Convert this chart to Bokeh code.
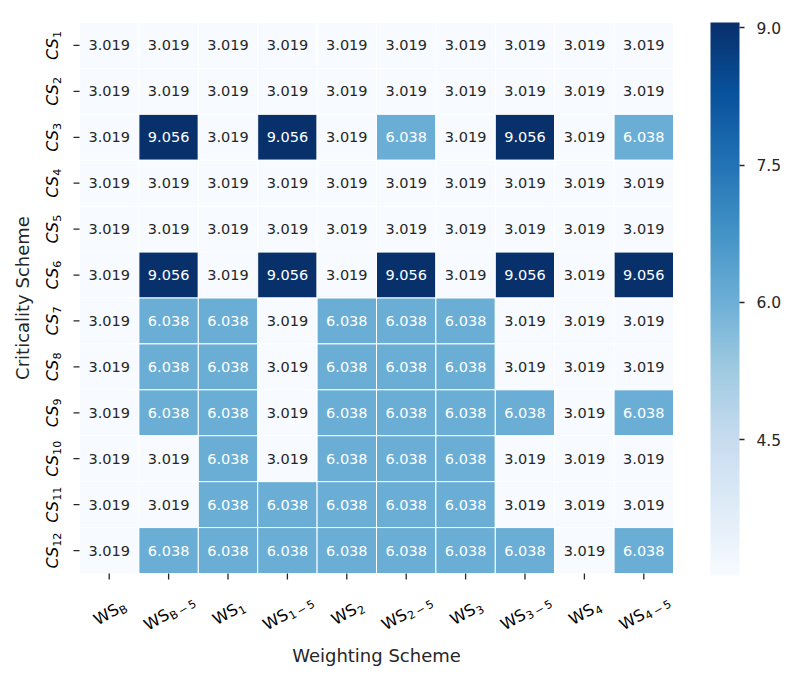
import math
from bokeh.plotting import figure
from bokeh.models import (ColumnDataSource, Range1d, LinearColorMapper, ColorBar,
                          FixedTicker, PrintfTickFormatter)
from bokeh.palettes import Blues256
from bokeh.embed import file_html
from bokeh.resources import INLINE
from bokeh.core.properties import value

# ---------------- data ----------------
ws_factors = ["WS_B", "WS_B-5", "WS_1", "WS_1-5", "WS_2", "WS_2-5",
              "WS_3", "WS_3-5", "WS_4", "WS_4-5"]
ws_main = "WS"
ws_subs = ["B", "B\u2009\u2212\u20095", "1", "1\u2009\u2212\u20095", "2", "2\u2009\u2212\u20095",
           "3", "3\u2009\u2212\u20095", "4", "4\u2009\u2212\u20095"]

cs_factors = ["CS_1", "CS_2", "CS_3", "CS_4", "CS_5", "CS_6",
              "CS_7", "CS_8", "CS_9", "CS_10", "CS_11", "CS_12"]
cs_main = "CS"
cs_subs = ["1", "2", "3", "4", "5", "6", "7", "8", "9", "10", "11", "12"]

cs1 = [3.019, 3.019, 3.019, 3.019, 3.019, 3.019, 3.019, 3.019, 3.019, 3.019]
cs2 = [3.019, 3.019, 3.019, 3.019, 3.019, 3.019, 3.019, 3.019, 3.019, 3.019]
cs3 = [3.019, 9.056, 3.019, 9.056, 3.019, 6.038, 3.019, 9.056, 3.019, 6.038]
cs4 = [3.019, 3.019, 3.019, 3.019, 3.019, 3.019, 3.019, 3.019, 3.019, 3.019]
cs5 = [3.019, 3.019, 3.019, 3.019, 3.019, 3.019, 3.019, 3.019, 3.019, 3.019]
cs6 = [3.019, 9.056, 3.019, 9.056, 3.019, 9.056, 3.019, 9.056, 3.019, 9.056]
cs7 = [3.019, 6.038, 6.038, 3.019, 6.038, 6.038, 6.038, 3.019, 3.019, 3.019]
cs8 = [3.019, 6.038, 6.038, 3.019, 6.038, 6.038, 6.038, 3.019, 3.019, 3.019]
cs9 = [3.019, 6.038, 6.038, 3.019, 6.038, 6.038, 6.038, 6.038, 3.019, 6.038]
cs10 = [3.019, 3.019, 6.038, 3.019, 6.038, 6.038, 6.038, 3.019, 3.019, 3.019]
cs11 = [3.019, 3.019, 6.038, 6.038, 6.038, 6.038, 6.038, 3.019, 3.019, 3.019]
cs12 = [3.019, 6.038, 6.038, 6.038, 6.038, 6.038, 6.038, 6.038, 3.019, 6.038]
rows = [cs1, cs2, cs3, cs4, cs5, cs6, cs7, cs8, cs9, cs10, cs11, cs12]

x_title = "Weighting Scheme"
y_title = "Criticality Scheme"
cbar_ticks = [4.5, 6.0, 7.5, 9.0]

# ---------------- layout / styling ----------------
W_PX, H_PX = 798, 682
LEFT, TOP, RIGHT, BOTTOM = 79, 22, 673, 573      # heatmap area in pixels
FONT = "DejaVu Sans"
TXT = "#262626"
TICK_FS = 16.0
SUB_FS = round(TICK_FS * 0.7, 1)
EM = {"W": 0.989, "S": 0.635, "C": 0.698, "B": 0.686, "\u2212": 0.838,
      "\u2009": 0.2, " ": 0.318}

ncol, nrow = len(ws_factors), len(cs_factors)
cw = (RIGHT - LEFT) / ncol
rh = (BOTTOM - TOP) / nrow
x_range = Range1d(-LEFT / cw, (W_PX - LEFT) / cw)
y_range = Range1d(-(H_PX - BOTTOM) / rh, nrow + TOP / rh)


def text_width(s, fs):
    return sum(EM.get(ch, 0.636) for ch in s) * fs


vmin = min(min(r) for r in rows)
vmax = max(max(r) for r in rows)
palette = list(reversed(Blues256))
mapper = LinearColorMapper(palette=palette, low=vmin, high=vmax)

# cell positions from the category order (column index, row index from top)
xs, ys, vals, labels, tcolors = [], [], [], [], []
for r, row in enumerate(rows):
    for c, v in enumerate(row):
        xs.append(c + 0.5)
        ys.append(nrow - r - 0.5)
        vals.append(v)
        labels.append(f"{v:.3f}")
        tcolors.append("white" if (v - vmin) / (vmax - vmin) > 0.4 else TXT)

src = ColumnDataSource(dict(x=xs, y=ys, val=vals, label=labels, tcolor=tcolors))

p = figure(x_range=x_range, y_range=y_range, width=W_PX, height=H_PX,
           output_backend="svg", toolbar_location=None,
           x_axis_location=None, y_axis_location=None,
           min_border=0, min_border_left=0, min_border_right=0,
           min_border_top=0, min_border_bottom=0)
p.outline_line_color = None
p.grid.visible = False
p.background_fill_color = "white"
p.border_fill_color = "white"

p.rect(x="x", y="y", width=1, height=1, source=src,
       fill_color={"field": "val", "transform": mapper},
       line_color="white", line_width=1)
p.text(x="x", y="y", text="label", source=src, text_align="center",
       text_baseline="middle", text_font=value(FONT), text_font_size="14.5px",
       text_color="tcolor")

# ---- tick marks (6 px long, outside the heatmap) ----
tick_len_x = 6 / rh
tick_len_y = 6 / cw
xt = [i + 0.5 for i in range(ncol)]
p.segment(x0=xt, y0=[0] * ncol, x1=xt, y1=[-tick_len_x] * ncol,
          line_color=TXT, line_width=1.3)
yt = [nrow - i - 0.5 for i in range(nrow)]
p.segment(x0=[0] * nrow, y0=yt, x1=[-tick_len_y] * nrow, y1=yt,
          line_color=TXT, line_width=1.3)

# ---- tick labels: main text + subscript, rotated ----
lab = dict(x=[], y=[], text=[], xo=[], yo=[], size=[], style=[], angle=[])


def add_rot_label(x, y, main, sub, angle_deg, cx, cy_down, italic):
    th = math.radians(angle_deg)
    wm = text_width(main, TICK_FS)
    wsb = text_width(sub, SUB_FS)
    W = wm + wsb + 0.5
    cap = 0.73 * TICK_FS
    # b = distance (px) of each piece's vertical middle below the label centre
    pieces = [(main, TICK_FS, -W / 2, cap / 2 - 0.3 * TICK_FS,
               "italic" if italic else "normal"),
              (sub, SUB_FS, -W / 2 + wm + 0.5, cap / 2 + 3.5 - 0.3 * SUB_FS, "normal")]
    for txt, fs, a, b, style in pieces:
        dx = a * math.cos(th) + b * math.sin(th)
        dy = -a * math.sin(th) + b * math.cos(th)
        lab["x"].append(x)
        lab["y"].append(y)
        lab["text"].append(txt)
        lab["xo"].append(cx + dx)
        lab["yo"].append(cy_down + dy)
        lab["size"].append(f"{fs}px")
        lab["style"].append(style)
        lab["angle"].append(th)


for i, sub in enumerate(ws_subs):
    add_rot_label(i + 0.5, 0, ws_main, sub, 30, 0, 38, False)
for i, sub in enumerate(cs_subs):
    add_rot_label(0, nrow - i - 0.5, cs_main, sub, 90, -28, 0, True)

lsrc = ColumnDataSource(lab)
p.text(x="x", y="y", text="text", source=lsrc, angle="angle",
       x_offset="xo", y_offset="yo", text_font_size="size",
       text_font_style="style", text_font=value(FONT),
       text_align="left", text_baseline="middle", text_color="black")

# ---- axis titles ----
p.text(x=[ncol / 2], y=[0], text=[x_title], x_offset=[0], y_offset=[82],
       text_align="center", text_baseline="middle", text_font=value(FONT),
       text_font_size="18px", text_color=TXT)
p.text(x=[0], y=[nrow / 2], text=[y_title], x_offset=[-57], y_offset=[0],
       angle=[math.pi / 2], text_align="center", text_baseline="middle",
       text_font=value(FONT), text_font_size="18px", text_color=TXT)

# ---- colour bar ----
cb = ColorBar(color_mapper=mapper, ticker=FixedTicker(ticks=cbar_ticks),
              formatter=PrintfTickFormatter(format="%.1f"),
              width=29, height=BOTTOM - TOP + 2, padding=0, margin=0,
              location=(710, H_PX - BOTTOM - 2),
              major_label_text_font=FONT, major_label_text_font_size="15.5px",
              major_label_text_color=TXT,
              major_tick_in=0, major_tick_out=5, major_tick_line_color=TXT,
              major_tick_line_width=1.3, label_standoff=12,
              bar_line_color=None, border_line_color=None,
              background_fill_color=None)
p.add_layout(cb)

open("out.html", "w").write(file_html(p, INLINE))
